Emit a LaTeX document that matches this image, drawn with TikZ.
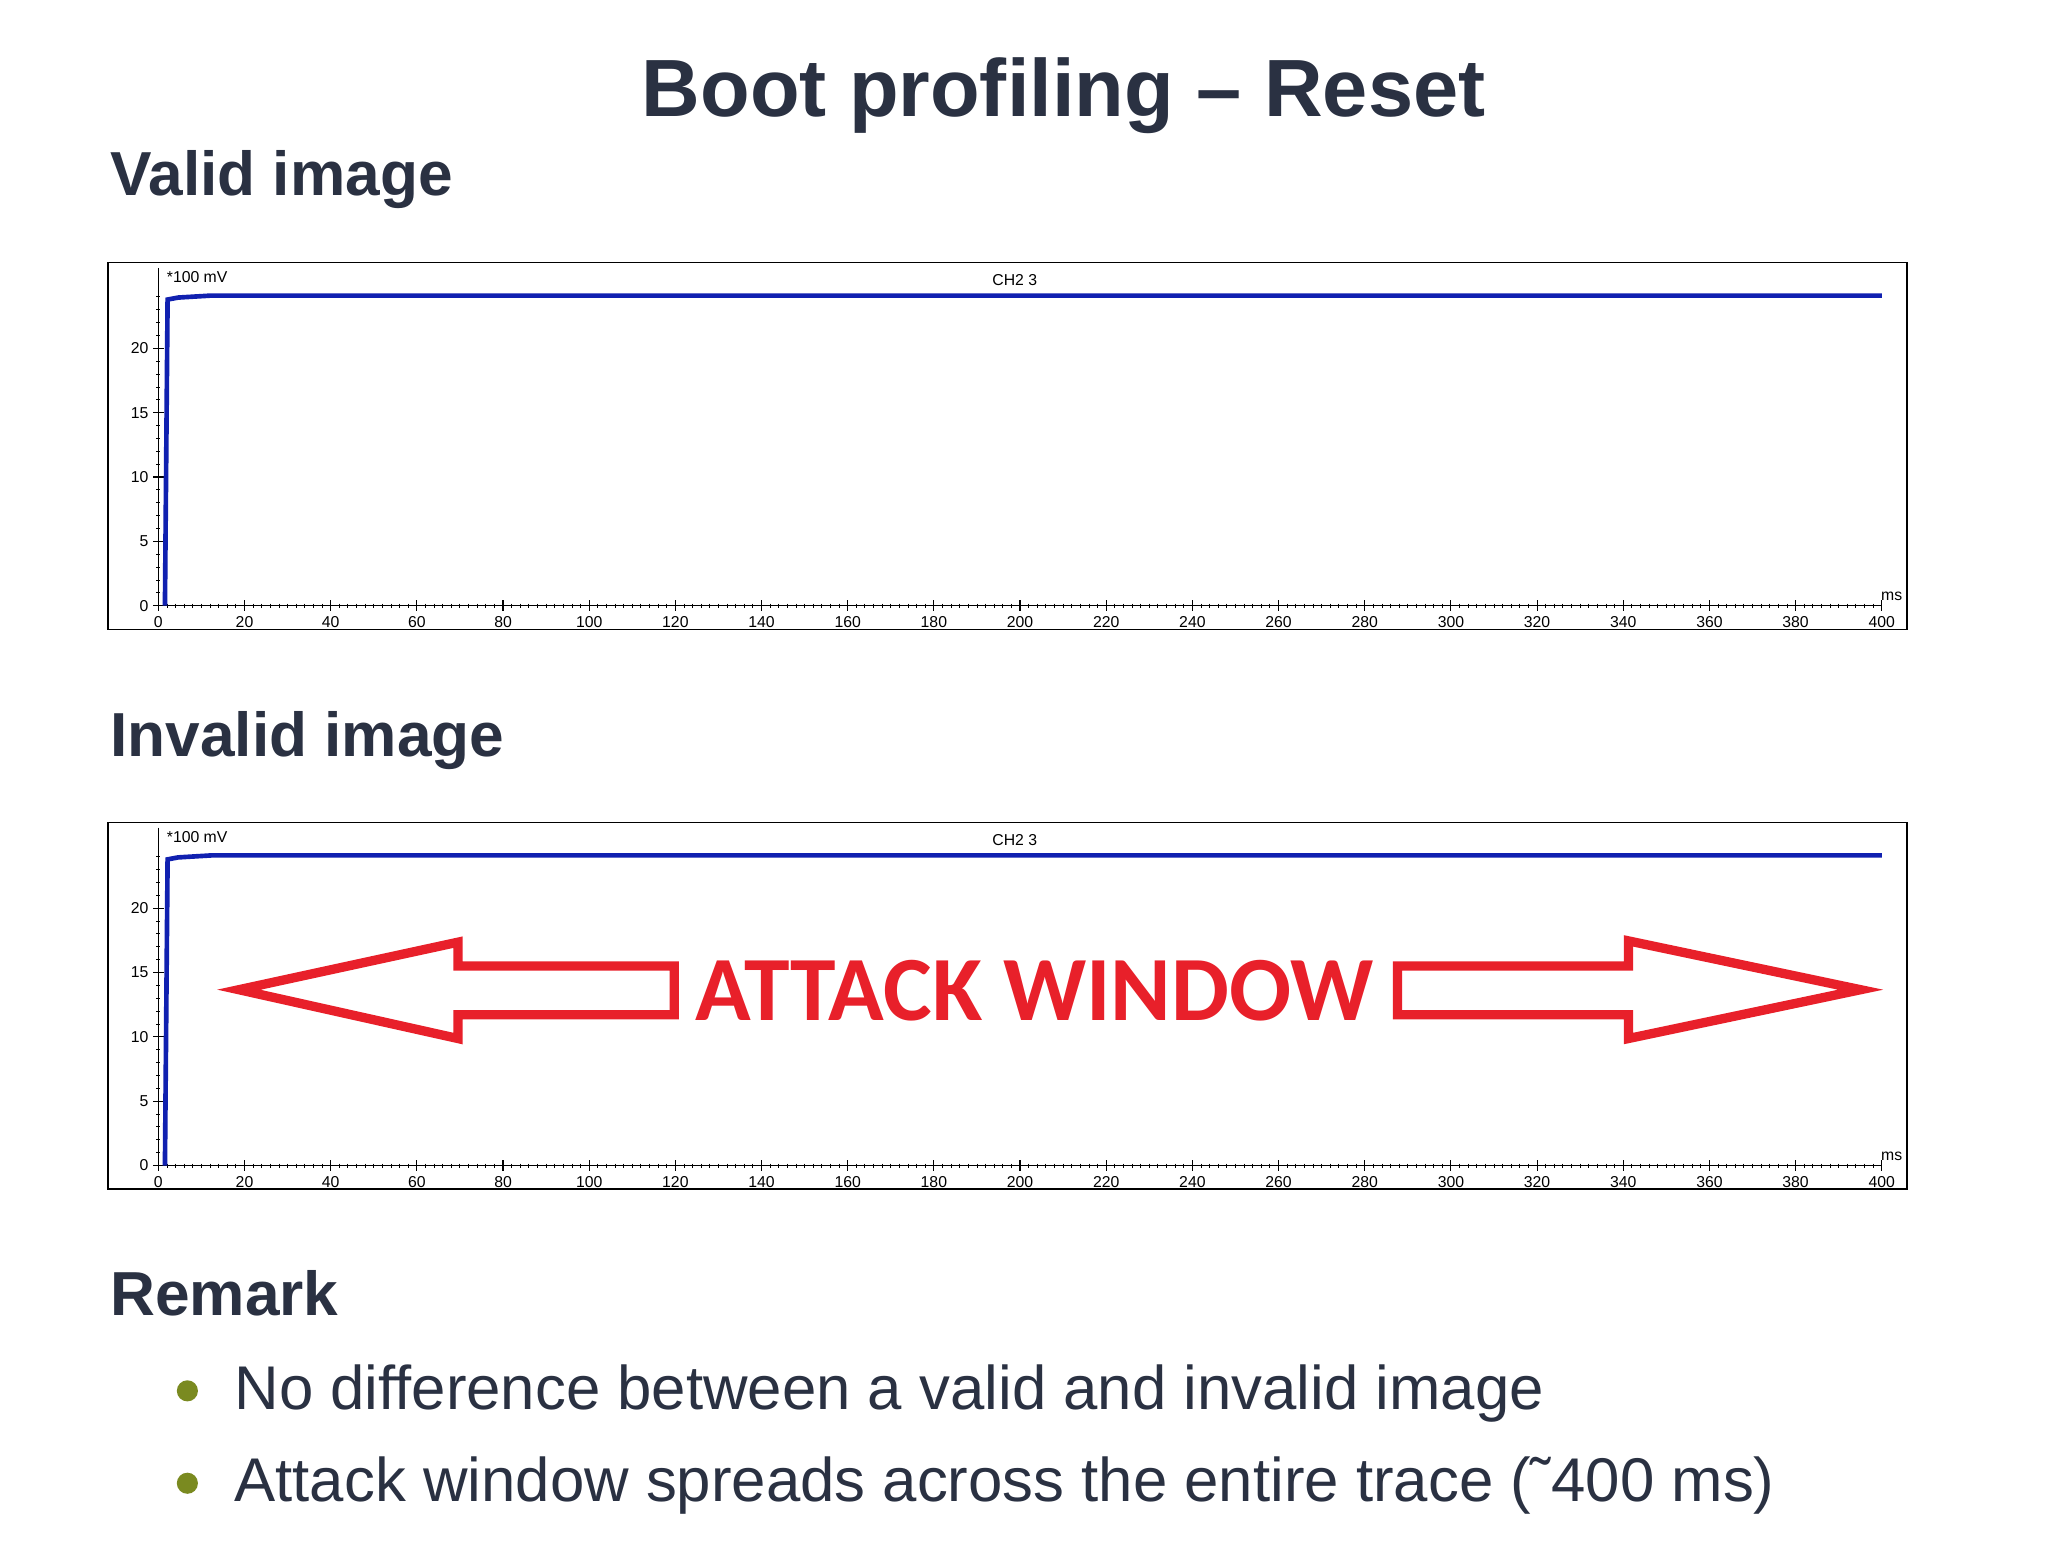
\documentclass[tikz,border=0pt]{standalone}
\usepackage{fontspec}
\setmainfont{Liberation Sans}
\newfontfamily\calib{Carlito}
\definecolor{ink}{HTML}{2A3142}
\definecolor{trace}{HTML}{1020B0}
\definecolor{attack}{HTML}{E8202A}
\definecolor{olive}{HTML}{7A8A20}
\tikzset{
  head/.style={font=\bfseries\fontsize{13.4}{16}\selectfont, text=ink, anchor=base west, inner sep=0},
  ax/.style={font=\fontsize{3.4}{4}\selectfont, inner sep=0.5pt},
  bul/.style={font=\fontsize{13.3}{16}\selectfont, text=ink, anchor=base west, inner sep=0},
}
\newcommand{\scopeplot}[2]{%
 \begin{scope}[yshift=#1]
  \draw[line width=0.35pt] (82,-199) rectangle (1445,-477);
  \draw[line width=0.3pt] (120,-203) -- (120,-459) -- (1426,-459);
  \foreach \t in {0,2,...,400} {\draw[line width=0.2pt] ({120+\t*3.265},-457.5) -- ({120+\t*3.265},-460.5);}
  \foreach \t in {0,20,...,400} {\draw[line width=0.25pt] ({120+\t*3.265},-455) -- ({120+\t*3.265},-463);
     \node[ax,anchor=north] at ({120+\t*3.265},-465) {\t};}
  \foreach \v in {0,...,24} {\draw[line width=0.2pt] (118.5,{-459+\v*9.75}) -- (121.5,{-459+\v*9.75});}
  \foreach \v in {0,5,...,20} {\draw[line width=0.25pt] (116,{-459+\v*9.75}) -- (124,{-459+\v*9.75});
     \node[ax,anchor=east] at (115,{-459+\v*9.75}) {\v};}
  \node[ax,anchor=west] at (124,-210) {*100 mV};
  \node[ax] at (769,-212) {CH2 3};
  \node[ax,anchor=south east] at (1444,-458) {ms};
  \draw[trace, line width=1pt] (125,-459) -- (127,-227) -- (135,-225.5) -- (160,-224) -- (1426,-224);
 \end{scope}}
\begin{document}
\begin{tikzpicture}[x=0.01cm,y=0.01cm]
\useasboundingbox[fill=white] (0,0) rectangle (1552,-1176);
\node[font=\bfseries\fontsize{17.5}{21}\selectfont, text=ink, anchor=base, inner sep=0] (title) at (806,-88) {Boot profiling – Reset};
\node[head] (valid) at (83,-148) {Valid image};
\scopeplot{0cm}{}
\node[head] (invalid) at (83,-573) {Invalid image};
\scopeplot{-4.24cm}{}
\draw[attack, line width=2pt, line join=miter] (511,-732) -- (347,-732) -- (347,-714) -- (181,-750) -- (347,-787) -- (347,-769) -- (511,-769) -- cycle;
\draw[attack, line width=2pt, line join=miter] (1059,-732) -- (1234,-732) -- (1234,-713) -- (1410,-750) -- (1234,-787) -- (1234,-769) -- (1059,-769) -- cycle;
\node[font=\calib\bfseries\fontsize{19.8}{24}\selectfont, text=attack, anchor=base, inner sep=0] (aw) at (784,-773) {ATTACK WINDOW};
\node[head] (remark) at (83,-997) {Remark};
\fill[olive] (142,-1054) circle (8);
\node[bul] (b1) at (177,-1068) {No difference between a valid and invalid image};
\fill[olive] (142,-1124) circle (8);
\node[bul] (b2) at (177,-1138) {Attack window spreads across the entire trace (˜400 ms)};
\end{tikzpicture}
\end{document}
